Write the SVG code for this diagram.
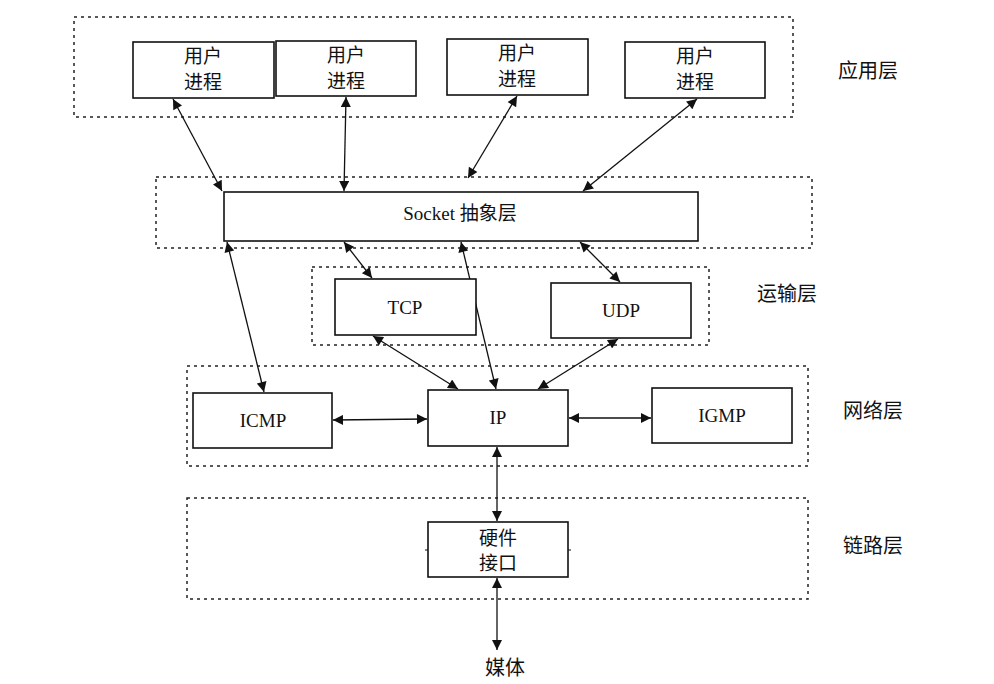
<svg xmlns="http://www.w3.org/2000/svg" width="994" height="684" viewBox="0 0 994 684">
<style>
.layer{fill:none;stroke:#222;stroke-width:1.5;stroke-dasharray:3,4}
.box{fill:#fff;stroke:#111;stroke-width:1.6}
.cn{font-family:"Noto Sans CJK SC","Noto Sans",sans-serif;font-size:19px;fill:#111;text-anchor:middle}
.en{font-family:"Liberation Serif","Noto Sans CJK SC",serif;font-size:19px;fill:#111;text-anchor:middle}
.lbl{font-family:"Noto Sans CJK SC",sans-serif;font-size:20px;fill:#111}
.c{stroke:#111;stroke-width:1.3;fill:none;marker-start:url(#ah);marker-end:url(#ah)}
</style>
<defs>
<marker id="ah" viewBox="0 0 10 10" refX="10" refY="5" markerWidth="12" markerHeight="10" markerUnits="userSpaceOnUse" orient="auto-start-reverse">
<path d="M0,0 L10,5 L0,10 z" fill="#111"/>
</marker>
</defs>
<g id="layers">
<rect class="layer" x="74" y="17" width="719" height="100"/>
<rect class="layer" x="156" y="177" width="656" height="71"/>
<rect class="layer" x="312" y="267" width="397" height="78"/>
<rect class="layer" x="187" y="366" width="621" height="100"/>
<rect class="layer" x="187" y="498" width="621" height="101"/>
</g>
<g id="labels">
<text class="lbl" x="838" y="78">应用层</text>
<text class="lbl" x="757" y="301">运输层</text>
<text class="lbl" x="843" y="418">网络层</text>
<text class="lbl" x="843" y="553">链路层</text>
</g>
<g id="connectors">
<line class="c" x1="173" y1="99" x2="222" y2="191"/>
<line class="c" x1="346" y1="97" x2="344" y2="191"/>
<line class="c" x1="517" y1="96" x2="468" y2="178"/>
<line class="c" x1="697" y1="99" x2="583" y2="191"/>
<line class="c" x1="227" y1="242" x2="264" y2="392"/>
<line class="c" x1="344" y1="242" x2="372" y2="278"/>
<line class="c" x1="461" y1="242" x2="496" y2="389"/>
<line class="c" x1="580" y1="242" x2="620" y2="282"/>
<line class="c" x1="373" y1="336" x2="458" y2="389"/>
<line class="c" x1="618" y1="339" x2="538" y2="389"/>
<line class="c" x1="333" y1="420" x2="427" y2="419"/>
<line class="c" x1="569" y1="418" x2="651" y2="418"/>
<line class="c" x1="497" y1="447" x2="497" y2="521"/>
<line class="c" x1="497" y1="578" x2="497" y2="650"/>
</g>
<g id="up1"><rect class="box" x="133" y="42" width="141" height="56"/><text class="cn"><tspan x="203" y="63">用户</tspan><tspan x="203" y="89">进程</tspan></text></g>
<g id="up2"><rect class="box" x="276" y="41" width="140" height="55"/><text class="cn"><tspan x="346" y="62">用户</tspan><tspan x="346" y="88">进程</tspan></text></g>
<g id="up3"><rect class="box" x="447" y="39" width="141" height="56"/><text class="cn"><tspan x="517" y="60">用户</tspan><tspan x="517" y="86">进程</tspan></text></g>
<g id="up4"><rect class="box" x="625" y="42" width="140" height="56"/><text class="cn"><tspan x="695" y="63">用户</tspan><tspan x="695" y="89">进程</tspan></text></g>
<g id="socket"><rect class="box" x="224" y="192" width="474" height="49"/><text class="en" x="460" y="220">Socket 抽象层</text></g>
<g id="tcp"><rect class="box" x="335" y="279" width="141" height="56"/><text class="en" x="405" y="314">TCP</text></g>
<g id="udp"><rect class="box" x="551" y="283" width="140" height="55"/><text class="en" x="621" y="317">UDP</text></g>
<g id="icmp"><rect class="box" x="193" y="393" width="139" height="55"/><text class="en" x="263" y="427">ICMP</text></g>
<g id="ip"><rect class="box" x="428" y="390" width="140" height="56"/><text class="en" x="498" y="424">IP</text></g>
<g id="igmp"><rect class="box" x="652" y="388" width="140" height="55"/><text class="en" x="722" y="422">IGMP</text></g>
<g id="hw"><rect class="box" x="428" y="522" width="140" height="55"/><line x1="425" y1="550" x2="428" y2="550" stroke="#111"/><line x1="568" y1="550" x2="571" y2="550" stroke="#111"/><text class="cn"><tspan x="498" y="545">硬件</tspan><tspan x="498" y="570">接口</tspan></text></g>
<g id="media"><text class="cn" x="505" y="675" style="font-size:20px">媒体</text></g>
</svg>
